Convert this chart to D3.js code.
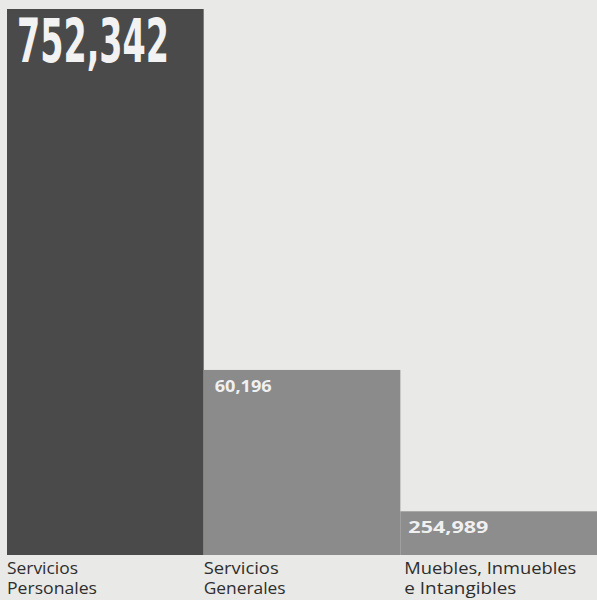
<!DOCTYPE html>
<html><head><meta charset="utf-8">
<script src="https://cdn.jsdelivr.net/npm/d3@7"></script>
<style>html,body{margin:0;padding:0;background:#e9e9e7;}svg{display:block;}</style>
</head><body>
<svg id="c" width="597" height="600"></svg>
<script>
// Categories (two-line labels)
const categories = ["Servicios Personales", "Servicios Generales", "Muebles, Inmuebles e Intangibles"];
const categoryLines = [["Servicios", "Personales"], ["Servicios", "Generales"], ["Muebles, Inmuebles", "e Intangibles"]];
// Bar heights as drawn in the picture
const values = [752342, 254989, 60196];
// Value labels as printed on each bar
const printedLabels = ["752,342", "60,196", "254,989"];
const barColors = ["#4a4a4a", "#8b8b8b", "#8d8d8d"];

const svg = d3.select("#c");
const x = d3.scaleBand().domain(categories).range([7, 597]).padding(0);
const y = d3.scaleLinear().domain([0, 752342]).range([555, 9]);

svg.selectAll("rect.bar").data(categories).join("rect")
  .attr("class", "bar")
  .attr("x", d => x(d))
  .attr("width", x.bandwidth())
  .attr("y", (d, i) => y(values[i]))
  .attr("height", (d, i) => y(0) - y(values[i]))
  .attr("fill", (d, i) => barColors[i]);

// big label
svg.append("text")
  .attr("x", x(categories[0]) + 10)
  .attr("y", y(values[0]) + 53)
  .attr("fill", "#f2f2f2")
  .attr("font-family", "'Liberation Sans Narrow', 'DejaVu Sans Condensed', sans-serif")
  .attr("font-weight", "bold")
  .attr("font-size", 60)
  .attr("textLength", 152)
  .attr("lengthAdjust", "spacingAndGlyphs")
  .text(printedLabels[0]);

const smallLen = [0, 57, 80];
[1, 2].forEach(i => {
  svg.append("text")
    .attr("x", x(categories[i]) + (i === 1 ? 11 : 8))
    .attr("y", y(values[i]) + 22)
    .attr("fill", "#f0f0f0")
    .attr("font-family", "'Open Sans', sans-serif")
    .attr("font-weight", 700)
    .attr("font-size", 16.5)
    .attr("textLength", smallLen[i])
    .attr("lengthAdjust", "spacingAndGlyphs")
    .text(printedLabels[i]);
});

const catLen = [[71, 90], [75, 82], [172, 112]];
const g = svg.selectAll("text.cat").data(categories).join("text")
  .attr("class", "cat")
  .attr("y", 574)
  .attr("fill", "#2e2e2e")
  .attr("font-family", "'Open Sans', sans-serif")
  .attr("font-size", 16);
g.each(function(d, i) {
  const t = d3.select(this);
  categoryLines[i].forEach((line, j) => {
    t.append("tspan").attr("x", x(d) + (i === 2 ? 4 : 0)).attr("dy", j === 0 ? 0 : 20)
      .attr("textLength", catLen[i][j]).attr("lengthAdjust", "spacingAndGlyphs").text(line);
  });
});
</script>
</body></html>
